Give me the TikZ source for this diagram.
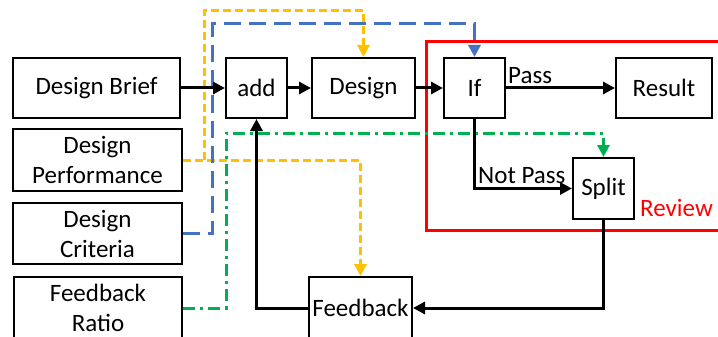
\documentclass[tikz,border=0pt]{standalone}
\usepackage{fontspec}
\setmainfont{Carlito}
\usetikzlibrary{arrows.meta,calc}
\definecolor{cyellow}{HTML}{FFC000}
\definecolor{cblue}{HTML}{4472C4}
\definecolor{cgreen}{HTML}{00B050}
\definecolor{cred}{HTML}{FF0000}
\tikzset{
  box/.style={draw=black, line width=2pt, fill=white, rectangle, inner sep=0pt,
    align=center, font=\fontsize{25}{30}\selectfont},
  flow/.style={line width=3pt, -{Triangle[length=12pt,width=12pt]}},
  ydash/.style={draw=cyellow, line width=3pt, dash pattern=on 8pt off 4pt,
    -{Triangle[length=12pt,width=12pt]}},
  bdash/.style={draw=cblue, line width=3pt, dash pattern=on 17pt off 8pt,
    -{Triangle[length=12pt,width=12pt]}},
  gdash/.style={draw=cgreen, line width=3pt, dash pattern=on 12pt off 5pt on 3pt off 5pt,
    -{Triangle[length=12pt,width=12pt]}},
  lbl/.style={font=\fontsize{25}{30}\selectfont, inner sep=0pt},
}
\begin{document}
\begin{tikzpicture}[x=1pt,y=-1pt]
\useasboundingbox (0,0) rectangle (718,337);

% review frame
\draw[cred, line width=3pt] (426,42) rectangle (730,230);
\node[lbl, text=cred, anchor=base west] (review) at (640,216) {Review};

% route corners of the dashed inputs
\coordinate (yj) at (204,160);
\coordinate (ytop) at (204,11);
\coordinate (btop) at (212,24);
\coordinate (gtop) at (226,133);

% boxes
\node[box, minimum width=167pt, minimum height=60pt] (brief) at (96.5,88) {Design Brief};
\node[box, minimum width=61pt, minimum height=60pt] (add) at (256.5,88) {add};
\node[box, minimum width=103pt, minimum height=60pt] (design) at (363.5,88) {Design};
\node[box, minimum width=61pt, minimum height=60pt] (if) at (474.5,88) {If};
\node[box, minimum width=96pt, minimum height=60pt] (result) at (664,88) {Result};
\node[box, minimum width=169pt, minimum height=62pt] (perf) at (97.5,160) {Design\\Performance};
\node[box, minimum width=169pt, minimum height=61pt] (crit) at (97.5,233.5) {Design\\Criteria};
\node[box, minimum width=168pt, minimum height=62pt] (ratio) at (98,308) {Feedback\\Ratio};
\node[box, minimum width=61pt, minimum height=61pt] (split) at (603.5,188.5) {Split};
\node[box, minimum width=103pt, minimum height=62pt] (fb) at (360.5,308) {Feedback};

% dashed inputs
\draw[ydash] (perf.east) -| (fb.north);
\draw[ydash] (yj) -- (ytop) -| (design.north);
\draw[bdash] (crit.east) -| (btop) -| (if.north);
\draw[gdash] (ratio.east) -| (gtop) -| (split.north);

% main flow
\draw[flow] (brief.east) -- (add.west);
\draw[flow] (add.east) -- (design.west);
\draw[flow] (design.east) -- (if.west);
\draw[flow] (if.east) -- (result.west);
\node[lbl, anchor=base west] (pass) at (508,84) {Pass};
\draw[flow] (if.south) |- (split.west);
\node[lbl, anchor=base west] (notpass) at (478,183) {Not Pass};
\draw[flow] (split.south) |- (fb.east);
\draw[flow] (fb.west) -| (add.south);
\end{tikzpicture}
\end{document}
